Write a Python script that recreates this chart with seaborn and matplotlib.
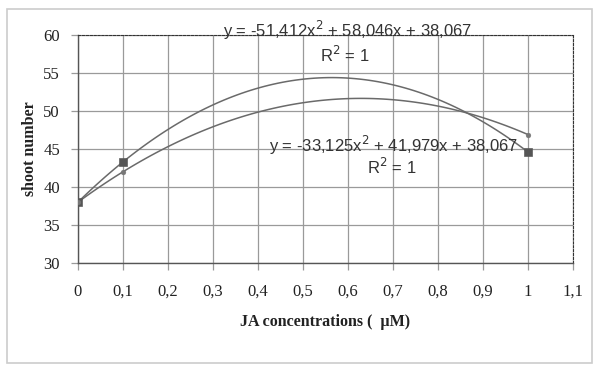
import numpy as np
import pandas as pd
import matplotlib
matplotlib.use("Agg")
import matplotlib.pyplot as plt
import seaborn as sns
from matplotlib.patches import Rectangle

# data
conc = [0, 0.1, 1]
series_a = [38.0, 43.3, 44.6]   # squares
series_b = [38.0, 42.0, 46.9]   # small dots
eq_a = "y = -51,412x$^2$ + 58,046x + 38,067"
eq_b = "y = -33,125x$^2$ + 41,979x + 38,067"
r2_text = "R$^2$ = 1"
x_ticks = [0, 0.1, 0.2, 0.3, 0.4, 0.5, 0.6, 0.7, 0.8, 0.9, 1.0, 1.1]
x_tick_labels = ["0", "0,1", "0,2", "0,3", "0,4", "0,5", "0,6", "0,7", "0,8", "0,9", "1", "1,1"]
y_ticks = [30, 35, 40, 45, 50, 55, 60]

sns.set_theme(style="white")
plt.rcParams['font.family'] = ['Liberation Serif', 'DejaVu Serif']

fig = plt.figure(figsize=(5.95, 3.65), dpi=100)
ax = fig.add_axes([0.131, 0.2795, 0.832, 0.6245])

df_a = pd.DataFrame({"x": conc, "y": series_a})
df_b = pd.DataFrame({"x": conc, "y": series_b})

line_col = "#6a6a6a"
sns.regplot(data=df_a, x="x", y="y", order=2, ci=None, scatter=False,
            truncate=True, ax=ax, line_kws=dict(color=line_col, lw=1.1))
sns.regplot(data=df_b, x="x", y="y", order=2, ci=None, scatter=False,
            truncate=True, ax=ax, line_kws=dict(color=line_col, lw=1.1))
sns.scatterplot(data=df_a, x="x", y="y", marker="s", s=30, color="#555555",
                edgecolor="#555555", ax=ax, zorder=5)
sns.scatterplot(data=df_b, x="x", y="y", marker="o", s=12, color="#777777",
                edgecolor="#777777", ax=ax, zorder=5)

ax.set_xlim(0, 1.1)
ax.set_ylim(30, 60)
ax.set_xticks(x_ticks)
ax.set_xticklabels(x_tick_labels)
ax.set_yticks(y_ticks)
ax.grid(True, color="#9a9a9a", lw=0.9)
ax.set_axisbelow(True)
ax.tick_params(axis="both", labelsize=12, colors="#222222", length=5,
               width=0.9, direction="out", pad=8)
ax.tick_params(axis="x", color="#9a9a9a", pad=10)
ax.tick_params(axis="y", color="#9a9a9a", pad=8)
ax.tick_params(bottom=True, left=True)
for s in ["left", "bottom"]:
    ax.spines[s].set_color("#555555")
    ax.spines[s].set_linewidth(1.0)
for s in ["top", "right"]:
    ax.spines[s].set_color("#333333")
    ax.spines[s].set_linewidth(0.8)
    ax.spines[s].set_linestyle((0, (2, 1.5)))

ax.set_xlabel("JA concentrations (  µM)", fontsize=11.5, fontweight="bold",
              color="#222222", labelpad=10)
ax.set_ylabel("shoot number", fontsize=11.5, fontweight="bold",
              color="#222222", labelpad=4)

sans = ['Liberation Sans', 'DejaVu Sans']
ax.text(0.598, 60.66, eq_a, family=sans, fontsize=12, color="#333333",
        ha="center", va="center")
ax.text(0.593, 57.4, r2_text, family=sans, fontsize=12, color="#333333",
        ha="center", va="center")
ax.text(0.702, 45.5, eq_b, family=sans, fontsize=12, color="#333333",
        ha="center", va="center")
ax.text(0.697, 42.6, r2_text, family=sans, fontsize=12, color="#333333",
        ha="center", va="center")

fig.patches.append(Rectangle((7/595, 1 - 363/365), 585/595, 354/365,
                             transform=fig.transFigure, fill=False,
                             edgecolor="#cccccc", lw=1.2))

fig.savefig("out.png", dpi=100)
